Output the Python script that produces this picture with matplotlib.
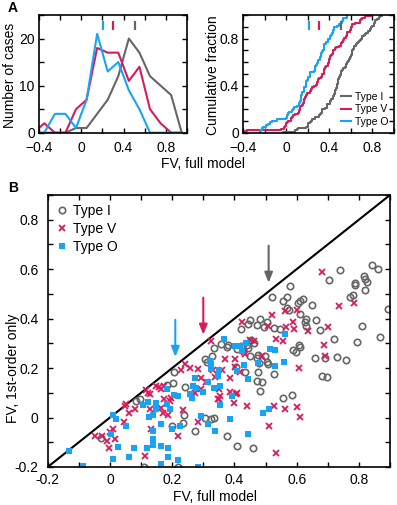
import numpy as np
import matplotlib
matplotlib.use('Agg')
import matplotlib.pyplot as plt
from matplotlib.ticker import MultipleLocator, FuncFormatter
import matplotlib.transforms as mtransforms

plt.rcParams['font.family'] = ['Liberation Sans', 'DejaVu Sans']

# ---------------- data ----------------
type_names = ['Type I', 'Type V', 'Type O']
type_colors = ['#666666', '#d81b5a', '#1aa3f5']

# Panel A (left): histogram of FV (full model), bin centres and counts
bin_centers = [-0.45, -0.35, -0.25, -0.15, -0.05, 0.05, 0.15, 0.25, 0.35, 0.45, 0.55, 0.65, 0.75, 0.85, 0.95]
hist_I = [0, 0, 0, 0, 1, 1, 4, 7, 12, 20, 17, 12, 10, 8, 0]
hist_V = [0, 2, 0, 0, 5, 7, 18, 17, 17, 11, 14, 5, 2, 0, 0]
hist_O = [0, 0, 4, 4, 1, 7, 21, 13, 15, 9, 5, 0, 0, 0, 0]

# medians of FV (full model)
medians = [0.51, 0.30, 0.21]

# Panel B: FV full model (x) vs FV first-order only (y)
I_full = [0.842, 0.862, 0.740, 0.704, 0.818, 0.820, 0.826, 0.820, 0.789, 0.787, 0.782, 0.773, 0.892, 0.810,
          0.795, 0.868, 0.719, 0.730, 0.760, 0.690, 0.658, 0.683, 0.699,
          0.579, 0.568, 0.557, 0.568, 0.574, 0.620, 0.611, 0.604, 0.649, 0.610, 0.630, 0.628, 0.631, 0.662,
          0.676, 0.522, 0.505, 0.481, 0.474, 0.496, 0.450, 0.420, 0.445, 0.528, 0.546, 0.607, 0.610, 0.588,
          0.598, 0.452, 0.439, 0.445, 0.420, 0.409, 0.380, 0.377, 0.356, 0.334, 0.306, 0.311, 0.329, 0.463,
          0.477, 0.474, 0.480, 0.498, 0.504, 0.507, 0.526, 0.477, 0.474, 0.490, 0.482, 0.405, 0.434, 0.450,
          0.555, 0.585,
          0.305, 0.324, 0.333, 0.377, 0.407, 0.461, 0.272, 0.235, 0.240, 0.205, 0.202, 0.183, 0.098, 0.084,
          -0.029, 0.200, 0.111, 0.219, 0.237]
I_first = [0.616, 0.600, 0.598, 0.558, 0.574, 0.562, 0.550, 0.515, 0.546, 0.536, 0.496, 0.486, 0.437, 0.370,
           0.306, 0.325, 0.316, 0.246, 0.233, 0.242, 0.242, 0.168, 0.164,
           0.534, 0.487, 0.470, 0.442, 0.436, 0.481, 0.473, 0.462, 0.457, 0.420, 0.397, 0.387, 0.370, 0.393,
           0.356, 0.486, 0.387, 0.397, 0.374, 0.368, 0.394, 0.359, 0.379, 0.364, 0.360, 0.292, 0.287, 0.274,
           0.266, 0.313, 0.294, 0.283, 0.290, 0.278, 0.294, 0.287, 0.296, 0.282, 0.236, 0.225, 0.247, 0.300,
           0.254, 0.242, 0.222, 0.247, 0.226, 0.215, 0.178, 0.184, 0.148, 0.143, 0.108, 0.204, 0.186, 0.250,
           0.078, 0.090,
           0.000, -0.006, -0.003, -0.074, -0.114, -0.125, -0.056, -0.024, 0.125, 0.186, 0.140, 0.132, 0.074, 0.067,
           -0.083, -0.034, -0.198, -0.198, 0.009]

V_full = [0.681, 0.735, 0.784, 0.700, 0.638, 0.602, 0.563, 0.588, 0.590, 0.566, 0.522, 0.423, 0.507, 0.534,
          0.557, 0.687, 0.690, 0.608, 0.401, 0.434, 0.464, 0.488, 0.450, 0.430,
          0.527, 0.562, 0.600, 0.611, 0.512, 0.533, 0.439, 0.399, 0.405, 0.419, 0.401,
          0.326, 0.240, 0.258, 0.283, 0.229, 0.330, 0.292, 0.308, 0.274, 0.294, 0.337, 0.360, 0.351, 0.355,
          0.351, 0.385, 0.371, 0.385, 0.408, 0.348,
          0.157, 0.149, 0.175, 0.165, 0.130, 0.116, 0.122, 0.192, 0.197, 0.173, 0.165, 0.170, 0.186, 0.130,
          0.132, 0.052, 0.079, 0.062, 0.048, 0.046, 0.011, 0.001, 0.017, -0.010, -0.004, -0.024, -0.048,
          0.113, 0.219, 0.235, 0.283,
          -0.38, -0.36]
V_first = [0.589, 0.453, 0.464, 0.366, 0.348, 0.433, 0.430, 0.386, 0.360, 0.366, 0.413, 0.386, 0.372, 0.319,
           0.309, 0.292, 0.249, 0.202, 0.235, 0.255, 0.309, 0.249, 0.312, 0.265,
           0.047, 0.034, 0.043, 0.003, -0.036, -0.144, 0.047, 0.058, 0.094, 0.184, 0.204,
           0.309, 0.215, 0.202, 0.195, 0.194, 0.191, 0.159, 0.145, 0.101, 0.114, 0.164, 0.192, 0.117, 0.087,
           0.074, 0.159, 0.235, 0.105, 0.100, 0.077,
           0.125, 0.128, 0.128, 0.117, 0.094, 0.110, 0.100, 0.067, 0.081, 0.074, 0.040, 0.017, 0.009, 0.034,
           -0.047, 0.054, 0.034, 0.020, 0.047, -0.017, -0.047, -0.058, -0.087, -0.094, -0.125, -0.074, -0.074,
           -0.155, -0.074, 0.030, -0.017,
           -0.35, -0.30]

O_full = [0.563, 0.560, 0.531, 0.529, 0.515, 0.475, 0.431, 0.443, 0.437, 0.418, 0.402, 0.425, 0.407, 0.367,
          0.391, 0.385, 0.445, 0.353, 0.353, 0.348, 0.350, 0.334, 0.321, 0.324, 0.326, 0.315, 0.299, 0.294,
          0.315, 0.339, 0.283, 0.272, 0.267, 0.278, 0.258, 0.264, 0.206, 0.219, 0.192, 0.224, 0.200, 0.165,
          0.149, 0.149, 0.138, 0.127, 0.122, 0.105, 0.138, 0.138, 0.138, 0.165, 0.186, 0.118, 0.076, 0.062,
          0.011, 0.025, 0.019, 0.011, 0.052, 0.003, 0.165, 0.186, 0.219, -0.088, -0.131, 0.184, 0.184,
          0.512, 0.493,
          -0.24, -0.23, -0.22, -0.21, -0.19, -0.17, -0.15]
O_first = [0.336, 0.224, 0.208, 0.273, 0.278, 0.219, 0.211, 0.155, 0.300, 0.289, 0.289, 0.269, 0.188, 0.316,
           0.087, -0.004, -0.067, 0.128, 0.051, 0.168, 0.192, 0.118, 0.228, 0.215, 0.195, 0.145, 0.105, 0.007,
           -0.027, -0.056, -0.198, 0.161, 0.128, 0.121, 0.094, 0.081, 0.091, 0.087, 0.034, -0.034, -0.047, -0.027,
           0.034, 0.060, 0.009, 0.004, 0.063, 0.051, -0.054, -0.087, -0.110, -0.114, -0.125, -0.124, -0.124, -0.161,
           -0.168, -0.121, -0.007, 0.009, -0.034, -0.067, -0.188, -0.158, -0.172, -0.195, -0.136, 0.114, 0.054,
           0.034, 0.017,
           -0.30, -0.26, -0.32, -0.24, -0.27, -0.25, -0.23]

full_vals = [I_full, V_full, O_full]
first_vals = [I_first, V_first, O_first]
hists = [hist_I, hist_V, hist_O]

# ---------------- figure ----------------
W, H = 397, 505
fig = plt.figure(figsize=(W / 100, H / 100), dpi=100)


def ax_rect(l, t, r, b):
    return [l / W, 1 - b / H, (r - l) / W, (b - t) / H]


axA1 = fig.add_axes(ax_rect(39, 15, 187, 132.7))
axA2 = fig.add_axes(ax_rect(243, 15, 394, 132.7))
axB = fig.add_axes(ax_rect(47.7, 195, 390, 467))


def fmt_unicode(v, pos):
    if abs(v) < 1e-9:
        return '0'
    return ('%g' % v).replace('-', '\u2212')


def fmt_hyphen(v, pos):
    if abs(v) < 1e-9:
        return '0'
    return '%g' % v


def style(ax, xpad, ypad):
    ax.tick_params(which='both', direction='in', length=3.5, width=1.0, top=True, right=True,
                   labelsize=10)
    ax.tick_params(axis='x', which='both', pad=xpad)
    ax.tick_params(axis='y', which='both', pad=ypad)
    for s in ax.spines.values():
        s.set_linewidth(1.2)
        s.set_zorder(5)


# Panel A left: histograms
for h, c in zip(hists, type_colors):
    axA1.plot(bin_centers, h, color=c, lw=1.5, clip_on=True)
axA1.set_xlim(-0.4, 1.0)
axA1.set_ylim(0, 25)
axA1.xaxis.set_major_locator(MultipleLocator(0.4))
axA1.xaxis.set_minor_locator(MultipleLocator(0.2))
axA1.yaxis.set_major_locator(MultipleLocator(10))
axA1.yaxis.set_minor_locator(MultipleLocator(5))
axA1.xaxis.set_major_formatter(FuncFormatter(fmt_unicode))
style(axA1, 5.8, 3.0)

# Panel A right: cumulative fractions
for xv, c, n in zip(full_vals, type_colors, type_names):
    xs = np.sort(np.asarray(xv))
    ys = np.arange(1, len(xs) + 1) / len(xs)
    axA2.step(np.r_[xs[0], xs], np.r_[0, ys], where='post', color=c, lw=1.5, label=n)
axA2.set_xlim(-0.4, 1.0)
axA2.set_ylim(0, 1.0)
axA2.xaxis.set_major_locator(MultipleLocator(0.4))
axA2.xaxis.set_minor_locator(MultipleLocator(0.2))
axA2.yaxis.set_major_locator(MultipleLocator(0.4))
axA2.yaxis.set_minor_locator(MultipleLocator(0.1))
axA2.xaxis.set_major_formatter(FuncFormatter(fmt_unicode))
axA2.yaxis.set_major_formatter(FuncFormatter(fmt_unicode))
style(axA2, 5.8, 3.0)
leg2 = axA2.legend(loc='lower right', frameon=False, fontsize=7.5, handlelength=1.0,
                   handletextpad=0.35, labelspacing=0.25, borderaxespad=0.15)

# median ticks in panel A
for ax in (axA1, axA2):
    tr = mtransforms.blended_transform_factory(ax.transData, ax.transAxes)
    for m, c in zip(medians, type_colors):
        ax.plot([m, m], [0.875, 0.945], transform=tr, color=c, lw=1.6, solid_capstyle='butt')

# Panel B scatter
axB.axline((0, 0), slope=1, color='black', lw=1.5, zorder=1)
markers = [dict(marker='o', mfc='none', mec=type_colors[0], ms=4.6, mew=1.2),
           dict(marker='x', mfc='none', mec=type_colors[1], ms=4.2, mew=1.3),
           dict(marker='s', mfc=type_colors[2], mec=type_colors[2], ms=4.2, mew=0)]
for xv, yv, mk, n in zip(full_vals, first_vals, markers, type_names):
    axB.plot(xv, yv, ls='none', label=n, **mk)

for m, c in zip(medians, type_colors):
    axB.annotate('', xy=(m, m + 0.035), xytext=(m, m + 0.185),
                 arrowprops=dict(arrowstyle='-|>,head_length=0.6,head_width=0.24', lw=1.5, color=c,
                                 shrinkA=0, shrinkB=0))

axB.set_xlim(-0.2, 0.9)
axB.set_ylim(-0.2, 0.9)
axB.xaxis.set_major_locator(MultipleLocator(0.2))
axB.xaxis.set_minor_locator(MultipleLocator(0.1))
axB.yaxis.set_major_locator(MultipleLocator(0.2))
axB.yaxis.set_minor_locator(MultipleLocator(0.1))
axB.xaxis.set_major_formatter(FuncFormatter(fmt_hyphen))
axB.yaxis.set_major_formatter(FuncFormatter(fmt_hyphen))
style(axB, 4.5, 6.5)
axB.set_xticks([v for v in axB.get_xticks() if v <= 0.85])
axB.set_yticks([v for v in axB.get_yticks() if v <= 0.85])
axB.set_xlim(-0.2, 0.9)
axB.set_ylim(-0.2, 0.9)
legB = axB.legend(loc='upper left', frameon=False, fontsize=10, handlelength=0.8,
                  handletextpad=0.4, labelspacing=0.3, borderaxespad=0.3, borderpad=0.35)

# labels
fig.text(8 / W, 1 - 8 / H, 'A', fontsize=10, fontweight='bold', ha='left', va='center')
fig.text(8 / W, 1 - 188 / H, 'B', fontsize=10, fontweight='bold', ha='left', va='center')
fig.text(203 / W, 1 - 164 / H, 'FV, full model', fontsize=10, ha='center', va='center')
fig.text(10 / W, 1 - 75 / H, 'Number of cases', fontsize=10, ha='center', va='center', rotation=90)
fig.text(213 / W, 1 - 75 / H, 'Cumulative fraction', fontsize=10, ha='center', va='center', rotation=90)
fig.text(215 / W, 1 - 497 / H, 'FV, full model', fontsize=10, ha='center', va='center')
fig.text(13 / W, 1 - 368 / H, 'FV, 1st-order only', fontsize=10, ha='center', va='center', rotation=90)

fig.savefig('out.png', dpi=100)
